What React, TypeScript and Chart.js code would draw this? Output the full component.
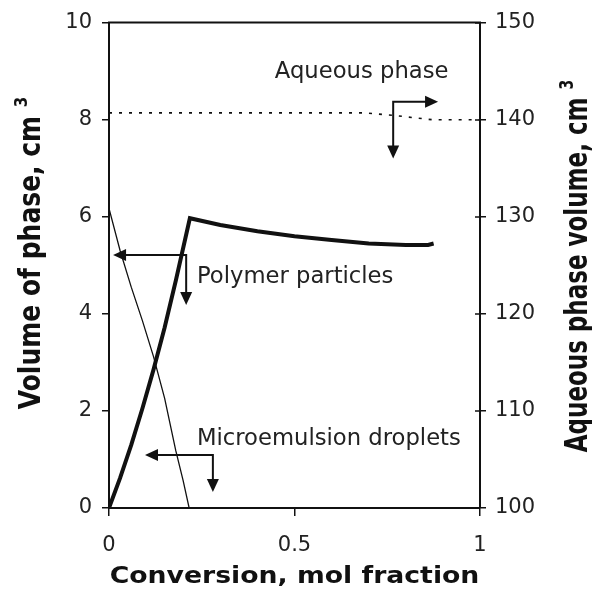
import React, { useEffect, useRef } from "react";
import { Chart, registerables } from "chart.js";

Chart.register(...registerables);

// ---- data ----
const polymerX = [0, 0.03, 0.06, 0.09, 0.12, 0.15, 0.18, 0.218, 0.3, 0.4, 0.5, 0.6, 0.7, 0.8, 0.86, 0.875];
const polymerY = [0, 0.62, 1.3, 2.05, 2.85, 3.72, 4.68, 5.97, 5.83, 5.7, 5.6, 5.52, 5.45, 5.42, 5.42, 5.45];

const microX = [0, 0.03, 0.06, 0.09, 0.12, 0.15, 0.18, 0.2, 0.216];
const microY = [6.17, 5.3, 4.55, 3.86, 3.12, 2.26, 1.18, 0.56, 0];

const aqueousX = [0, 0.69, 0.77, 0.87, 1.0];
const aqueousY = [140.7, 140.7, 140.43, 140.0, 140.0];

const xTickValues = [0, 0.5, 1];
const leftTickValues = [0, 2, 4, 6, 8, 10];
const rightTickValues = [100, 110, 120, 130, 140, 150];

// annotation labels (data units of bottom / left axes)
const noteTexts = ["Aqueous phase", "Polymer particles", "Microemulsion droplets"];
const noteX = [0.447, 0.237, 0.237];
const noteY = [8.85, 4.63, 1.3];

// annotation arrows: corner, horizontal tip x, vertical tip y
const arrowCornerX = [0.766, 0.208, 0.28];
const arrowCornerY = [8.37, 5.21, 1.09];
const arrowHTipX = [0.887, 0.011, 0.097];
const arrowVTipY = [7.2, 4.18, 0.33];

const xTitle = "Conversion, mol fraction";
const yTitle = "Volume of phase, cm";
const y1Title = "Aqueous phase volume, cm";
const supText = "3";

const INK = "#111";
const TEXT = "#222";

function toPoints(xs: number[], ys: number[]) {
  return xs.map((x, i) => ({ x, y: ys[i] }));
}

function drawArrowHead(ctx: CanvasRenderingContext2D, tx: number, ty: number, dx: number, dy: number) {
  const len = 13;
  const half = 6;
  const bx = tx - dx * len;
  const by = ty - dy * len;
  const px = -dy;
  const py = dx;
  ctx.beginPath();
  ctx.moveTo(tx, ty);
  ctx.lineTo(bx + px * half, by + py * half);
  ctx.lineTo(bx - px * half, by - py * half);
  ctx.closePath();
  ctx.fill();
}

function drawVerticalTitle(
  ctx: CanvasRenderingContext2D,
  main: string,
  sup: string,
  cx: number,
  cy: number,
  size: number,
  stretch: number
) {
  ctx.save();
  ctx.translate(cx, cy);
  ctx.rotate(-Math.PI / 2);
  ctx.scale(1, stretch);
  ctx.font = `bold ${size}px "DejaVu Sans"`;
  const w1 = ctx.measureText(main + " ").width;
  const supSize = Math.round(size * 0.6);
  ctx.font = `bold ${supSize}px "DejaVu Sans"`;
  const w2 = ctx.measureText(sup).width;
  const start = -(w1 + w2) / 2;
  ctx.textAlign = "left";
  ctx.textBaseline = "alphabetic";
  ctx.font = `bold ${size}px "DejaVu Sans"`;
  ctx.fillText(main, start, 0);
  ctx.font = `bold ${supSize}px "DejaVu Sans"`;
  ctx.fillText(sup, start + w1, -size * 0.45);
  ctx.restore();
}

const overlayPlugin = {
  id: "overlay",
  afterDraw(chart: any) {
    const { ctx, chartArea, scales } = chart;
    const xs = scales.x;
    const ys = scales.y;
    const y1 = scales.y1;
    ctx.save();

    // top frame line
    ctx.strokeStyle = INK;
    ctx.lineWidth = 2;
    ctx.beginPath();
    ctx.moveTo(chartArea.left - 1, chartArea.top);
    ctx.lineTo(chartArea.right + 1, chartArea.top);
    ctx.stroke();

    // inner half of right-axis ticks
    ctx.lineWidth = 1.5;
    ctx.beginPath();
    for (const v of rightTickValues) {
      const py = Math.round(y1.getPixelForValue(v));
      ctx.moveTo(chartArea.right - 5, py);
      ctx.lineTo(chartArea.right, py);
    }
    ctx.stroke();

    // arrows
    ctx.fillStyle = INK;
    ctx.lineWidth = 2;
    for (let i = 0; i < arrowCornerX.length; i++) {
      const cx = xs.getPixelForValue(arrowCornerX[i]);
      const cy = ys.getPixelForValue(arrowCornerY[i]);
      const hx = xs.getPixelForValue(arrowHTipX[i]);
      const vy = ys.getPixelForValue(arrowVTipY[i]);
      const dirH = hx > cx ? 1 : -1;
      ctx.beginPath();
      ctx.moveTo(hx - dirH * 10, cy);
      ctx.lineTo(cx, cy);
      ctx.lineTo(cx, vy - 10);
      ctx.stroke();
      drawArrowHead(ctx, hx, cy, dirH, 0);
      drawArrowHead(ctx, cx, vy, 0, 1);
    }

    // annotation texts
    ctx.fillStyle = TEXT;
    ctx.font = '22.7px "DejaVu Sans"';
    ctx.textAlign = "left";
    ctx.textBaseline = "alphabetic";
    for (let i = 0; i < noteTexts.length; i++) {
      ctx.fillText(noteTexts[i], xs.getPixelForValue(noteX[i]), ys.getPixelForValue(noteY[i]));
    }

    // x-axis title (stretched bold)
    ctx.fillStyle = INK;
    ctx.save();
    ctx.translate((chartArea.left + chartArea.right) / 2, chart.height - 9);
    ctx.scale(1.16, 1);
    ctx.font = 'bold 23px "DejaVu Sans"';
    ctx.textAlign = "center";
    ctx.fillText(xTitle, 0, 0);
    ctx.restore();

    // y titles
    drawVerticalTitle(ctx, yTitle, supText, 40, 253, 25, 1.2);
    drawVerticalTitle(ctx, y1Title, supText, 587, 266, 23, 1.4);

    ctx.restore();
  },
};

export default function App() {
  const canvasRef = useRef<HTMLCanvasElement | null>(null);

  useEffect(() => {
    const canvas = canvasRef.current;
    if (!canvas) return;
    const tickFont = { family: '"DejaVu Sans"', size: 21 };
    const chart = new Chart(canvas, {
      type: "line",
      data: {
        datasets: [
          {
            label: "Polymer particles",
            data: toPoints(polymerX, polymerY),
            yAxisID: "y",
            borderColor: INK,
            borderWidth: 4,
            pointRadius: 0,
            tension: 0,
            fill: false,
          },
          {
            label: "Microemulsion droplets",
            data: toPoints(microX, microY),
            yAxisID: "y",
            borderColor: INK,
            borderWidth: 1.3,
            pointRadius: 0,
            tension: 0,
            fill: false,
          },
          {
            label: "Aqueous phase",
            data: toPoints(aqueousX, aqueousY),
            yAxisID: "y1",
            borderColor: INK,
            borderWidth: 1.6,
            borderDash: [3, 7],
            pointRadius: 0,
            tension: 0,
            fill: false,
          },
        ],
      },
      options: {
        animation: false,
        responsive: false,
        maintainAspectRatio: false,
        layout: { padding: { top: 22, left: 0, right: 0, bottom: 0 } },
        plugins: { legend: { display: false }, tooltip: { enabled: false } },
        scales: {
          x: {
            type: "linear",
            min: 0,
            max: 1,
            afterFit: (s: any) => {
              s.height = 84;
            },
            afterBuildTicks: (s: any) => {
              s.ticks = xTickValues.map((v) => ({ value: v }));
            },
            ticks: {
              color: TEXT,
              font: tickFont,
              padding: 17,
              maxRotation: 0,
              callback: (v: any) => String(v),
            },
            grid: { drawOnChartArea: false, tickLength: 8, color: INK, lineWidth: 1.5 },
            border: { display: true, color: INK, width: 2 },
          },
          y: {
            type: "linear",
            position: "left",
            min: 0,
            max: 10,
            afterFit: (s: any) => {
              s.width = 109;
            },
            afterBuildTicks: (s: any) => {
              s.ticks = leftTickValues.map((v) => ({ value: v }));
            },
            ticks: { color: TEXT, font: tickFont, padding: 10, callback: (v: any) => String(v) },
            grid: { drawOnChartArea: false, tickLength: 7, color: INK, lineWidth: 1.5 },
            border: { display: true, color: INK, width: 2 },
          },
          y1: {
            type: "linear",
            position: "right",
            min: 100,
            max: 150,
            afterFit: (s: any) => {
              s.width = 112;
            },
            afterBuildTicks: (s: any) => {
              s.ticks = rightTickValues.map((v) => ({ value: v }));
            },
            ticks: { color: TEXT, font: tickFont, padding: 9, callback: (v: any) => String(v) },
            grid: { drawOnChartArea: false, tickLength: 6, color: INK, lineWidth: 1.5 },
            border: { display: true, color: INK, width: 2 },
          },
        },
      },
      plugins: [overlayPlugin],
    });
    return () => chart.destroy();
  }, []);

  return (
    <div style={{ position: "fixed", left: 0, top: 0, width: 592, height: 592, background: "#fff" }}>
      <canvas ref={canvasRef} width={592} height={592} style={{ display: "block" }} />
    </div>
  );
}
